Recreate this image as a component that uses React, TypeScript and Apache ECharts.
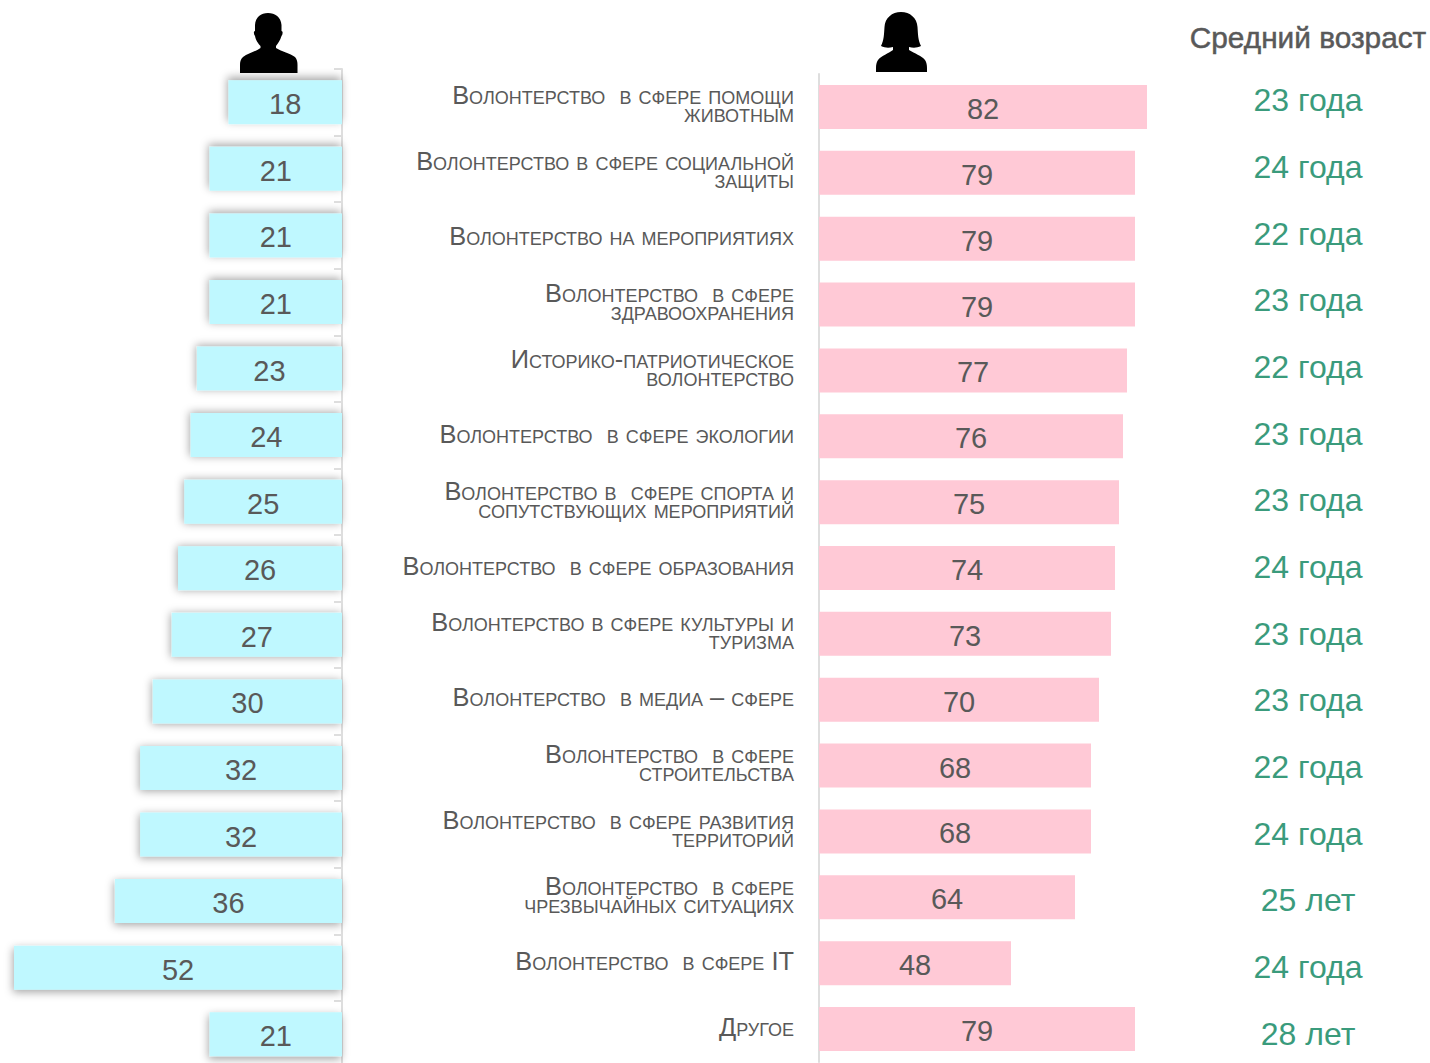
import React, { useEffect, useRef } from "react";
import * as echarts from "echarts";

const categories = [
  "Волонтерство  в сфере помощи\nживотным",
  "Волонтерство в сфере социальной\nзащиты",
  "Волонтерство на мероприятиях",
  "Волонтерство  в сфере\nздравоохранения",
  "Историко-патриотическое\nволонтерство",
  "Волонтерство  в сфере экологии",
  "Волонтерство в  сфере спорта и\nсопутствующих мероприятий",
  "Волонтерство  в сфере образования",
  "Волонтерство в сфере культуры и\nтуризма",
  "Волонтерство  в медиа – сфере",
  "Волонтерство  в сфере\nстроительства",
  "Волонтерство  в сфере развития\nтерриторий",
  "Волонтерство  в сфере\nчрезвычайных ситуациях",
  "Волонтерство  в сфере IT",
  "Другое",
];
const maleValues = [18, 21, 21, 21, 23, 24, 25, 26, 27, 30, 32, 32, 36, 52, 21];
const femaleValues = [82, 79, 79, 79, 77, 76, 75, 74, 73, 70, 68, 68, 64, 48, 79];
const ageLabels = [
  "23 года", "24 года", "22 года", "23 года", "22 года", "23 года", "23 года", "24 года",
  "23 года", "23 года", "22 года", "24 года", "25 лет", "24 года", "28 лет",
];
const ageTitle = "Средний возраст";

const malePath =
  "M268 13 C275 13 281 17 281.5 25 L281.5 31 C283 31 283 34 281.5 36 C280 41 278 43 276 46 L276 48 C282 52 290 53 295 57 C297 59 297.5 62 297.5 65 L297.5 73 L240 73 L240 65 C240 62 240.5 59 243 57 C248 53 255 52 260.5 48 L260.5 46 C258 43 256 41 255 36 C253.5 34 253.5 31 255 31 L255 25 C255.5 17 261 13 268 13 Z";
const femalePath =
  "M901 12 C910 12 917 18 917.5 27 C918 34 918 40 921 46 C917 48 913 48 909 47 L909 50 C915 54 921 55 925 60 C926.5 62 927 65 927 68 L927 72 L876 72 L876 68 C876 65 876.5 62 878 60 C882 55 888 54 893 50 L893 47 C889 48 885 48 881 46 C884 40 884 34 884.5 27 C885 18 892 12 901 12 Z";

const text = "#595959";

export default function App() {
  const ref = useRef<HTMLDivElement>(null);
  useEffect(() => {
    document.body.style.margin = "0";
    echarts.graphic.registerShape("maleIcon", echarts.graphic.extendPath(malePath, {}) as any);
    echarts.graphic.registerShape("femaleIcon", echarts.graphic.extendPath(femalePath, {}) as any);
    const chart = echarts.init(ref.current!, undefined, { renderer: "svg" });
    chart.setOption({
      animation: false,
      backgroundColor: "#ffffff",
      grid: [
        { left: 14, top: 69, width: 328, height: 998.5 },
        { left: 819, top: 74, width: 328, height: 988 },
        { left: 1308, top: 67, width: 1, height: 1000 },
        { left: 819, top: 71.5, width: 1, height: 988 },
      ],
      xAxis: [
        { gridIndex: 0, type: "value", min: 0, max: 52, inverse: true, show: false },
        { gridIndex: 1, type: "value", min: 0, max: 82, show: false },
        { gridIndex: 2, type: "value", min: 0, max: 1, show: false },
        { gridIndex: 3, type: "value", min: 0, max: 1, show: false },
      ],
      yAxis: [
        {
          gridIndex: 0, type: "category", inverse: true, position: "right", data: categories,
          axisLine: { lineStyle: { color: "#dedede", width: 2 } },
          axisTick: { show: true, inside: true, length: 8, lineStyle: { color: "#dedede", width: 2 } },
          axisLabel: { show: false },
        },
        {
          gridIndex: 1, type: "category", inverse: true, data: categories,
          axisLine: { lineStyle: { color: "#dedede", width: 2 } },
          axisTick: { show: false },
          axisLabel: { show: false },
        },
        {
          gridIndex: 2, type: "category", inverse: true, data: ageLabels,
          axisLine: { show: false }, axisTick: { show: false },
          axisLabel: {
            margin: 0, align: "center", color: "#3a9b7c", fontSize: 32,
            fontFamily: "Liberation Sans", interval: 0,
          },
        },
        {
          gridIndex: 3, type: "category", inverse: true, data: categories,
          axisLine: { show: false }, axisTick: { show: false },
          axisLabel: {
            margin: 25, align: "right", color: text, fontSize: 25.4, lineHeight: 18,
            fontFamily: "Liberation Sans", interval: 0,
          },
        },
      ],
      series: [
        {
          type: "bar", name: "Мужчины", xAxisIndex: 0, yAxisIndex: 0, barWidth: 44,
          data: maleValues.map((value, i) => ({
            value,
            itemStyle: {
              color: "#bff8ff", shadowBlur: 8, shadowColor: "rgba(0,0,0,0.35)",
              shadowOffsetX: -1, shadowOffsetY: -3 + (6 * i) / 14,
            },
          })),
          label: { show: true, position: "inside", offset: [0, 2], color: text, fontSize: 29, fontFamily: "Liberation Sans" },
        },
        {
          type: "bar", name: "Женщины", xAxisIndex: 1, yAxisIndex: 1, data: femaleValues, barWidth: 44,
          itemStyle: { color: "#ffc9d6" },
          label: { show: true, position: "inside", offset: [0, 2], color: text, fontSize: 29, fontFamily: "Liberation Sans" },
        },
      ],
      graphic: [
        { type: "maleIcon", x: 0, y: 0, style: { fill: "#000000" } },
        { type: "femaleIcon", x: 0, y: 0, style: { fill: "#000000" } },
        {
          type: "text", x: 1308, y: 37,
          style: {
            text: ageTitle, x: 0, y: 0, align: "center", verticalAlign: "middle",
            fill: text, font: "29.8px 'Liberation Sans'",
            stroke: text, lineWidth: 0.5,
          },
        },
      ],
    });
    return () => chart.dispose();
  }, []);
  return (
    <div style={{ position: "absolute", left: 0, top: 0, width: 1430, height: 1063, overflow: "hidden" }}>
      <style>{`text[style*="25.4px"] { font-variant: small-caps !important; }`}</style>
      <div ref={ref} style={{ width: 1430, height: 1090 }} />
    </div>
  );
}
